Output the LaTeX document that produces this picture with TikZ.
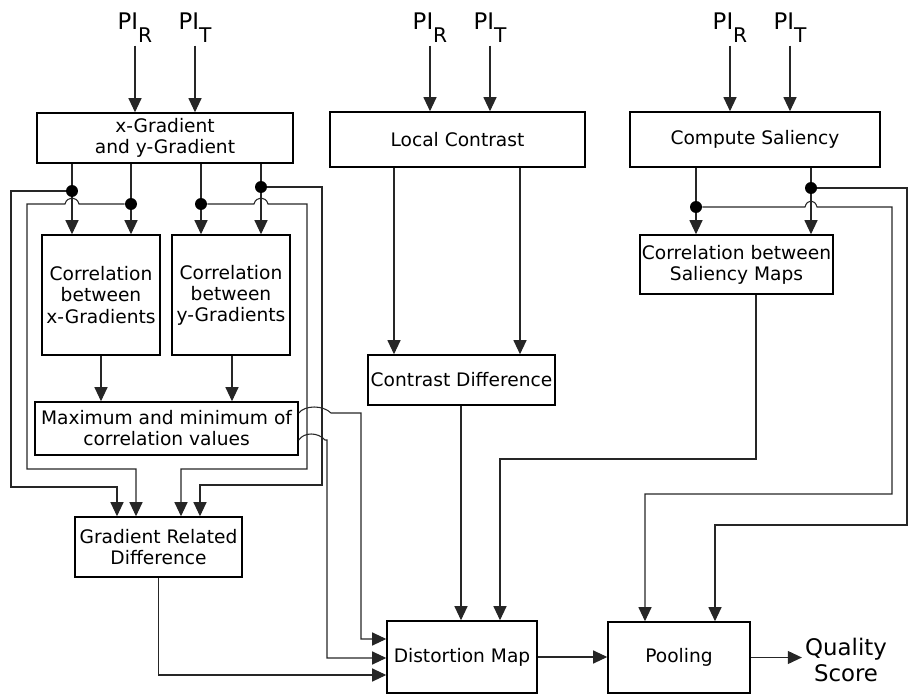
\documentclass[tikz,border=0pt]{standalone}
\usepackage{fontspec}
\setmainfont{DejaVu Sans}
\usepackage{tikz}
\usetikzlibrary{arrows.meta}
\tikzstyle{block}=[draw, line width=0.9pt, rectangle, align=center, inner sep=1pt, font=\fontsize{10.6}{12}\selectfont]
\tikzstyle{input}=[draw=none, inner sep=.6mm, font=\fontsize{13}{14.5}\selectfont]
\tikzstyle{dot}=[draw=none, fill, circle, inner sep=0pt, minimum size=2.4mm]
\tikzstyle{wire}=[line width=0.6pt, draw=black!85]
\tikzstyle{arr}=[wire, -{Triangle[length=2.8mm,width=2.6mm]}]

\begin{document}
\begin{tikzpicture}[x=0.02cm, y=-0.02cm]
\useasboundingbox (0,0) rectangle (910,696);
\node[block, minimum width=5.12cm, minimum height=1cm] (grad) at (165,138) {x-Gradient\\and y-Gradient};
\node[block, minimum width=5.1cm, minimum height=1.1cm] (lcon) at (457.5,139.5) {Local Contrast};
\node[block, minimum width=5cm, minimum height=1.1cm] (sal) at (755,139.5) {Compute Saliency};
\node[block, minimum width=2.36cm, minimum height=2.4cm] (corrx) at (101,295) {Correlation\\between\\x-Gradients};
\node[block, minimum width=2.36cm, minimum height=2.4cm] (corry) at (231,295) {Correlation\\between\\y-Gradients};
\node[block, minimum width=5.26cm, minimum height=1.06cm] (maxmin) at (166.5,428.5) {Maximum and minimum of\\correlation values};
\node[block, minimum width=3.34cm, minimum height=1.2cm] (grd) at (158.5,547) {Gradient Related\\Difference};
\node[block, minimum width=3.74cm, minimum height=1cm] (cdiff) at (461.5,380) {Contrast Difference};
\node[block, minimum width=3.66cm, minimum height=1.18cm] (corrs) at (736.5,264.5) {Correlation between\\Saliency Maps};
\node[block, minimum width=3cm, minimum height=1.44cm] (dmap) at (462,657) {Distortion Map};
\node[block, minimum width=2.84cm, minimum height=1.42cm] (pool) at (679,657.5) {Pooling};
\node[input, align=center, font=\fontsize{13}{14.5}\selectfont] (qs) at (846,660) {Quality\\Score};

% image inputs
\foreach \n/\x/\s/\b in {pr1/135/R/grad, pt1/195/T/grad, pr2/430/R/lcon, pt2/490/T/lcon, pr3/730/R/sal, pt3/790/T/sal}{
  \node[input, anchor=base] (\n) at (\x,30) {PI\raisebox{-7pt}{\fontsize{11.5}{12}\selectfont\s}};
  \draw[arr] (\n) -- (\n |- \b.north);
}

% branch points
\foreach \n/\x/\y in {d1/72/191, d2/131/204, d3/201/204, d4/261/187, s1/696/207, s2/811/188}
  \node[dot] (\n) at (\x,\y) {};
\foreach \d/\f/\t in {d1/grad/corrx, d2/grad/corrx, d3/grad/corry, d4/grad/corry, s1/sal/corrs, s2/sal/corrs}{
  \draw[wire] (\d |- \f.south) -- (\d);
  \draw[arr] (\d) -- (\d |- \t.north);
}
\foreach \x/\f/\t in {101/corrx/maxmin, 232/corry/maxmin, 394/lcon/cdiff, 520/lcon/cdiff, 461/cdiff/dmap}
  \draw[arr] (\x,0 |- \f.south) -- (\x,0 |- \t.north);

% gradients to gradient related difference
\draw[arr] (d1) -- (11,191) -- (11,487) -- (117,487) -- (117,0 |- grd.north);
\draw[arr] (d2) -- (79,204) .. controls (77,196) and (67,196) .. (65,204) -- (27,204) -- (27,469) -- (136,469) -- (136,0 |- grd.north);
\draw[arr] (d3) -- (254,204) .. controls (256,196) and (266,196) .. (268,204) -- (307,204) -- (307,469) -- (181,469) -- (181,0 |- grd.north);
\draw[arr] (d4) -- (322,187) -- (322,485) -- (200,485) -- (200,0 |- grd.north);

% into distortion map
\draw[arr] (maxmin.east |- 0,413) .. controls (305,405) and (323,405) .. (331,413) -- (361,413) -- (361,639) -- (dmap.west |- 0,639);
\draw[arr] (maxmin.east |- 0,440) .. controls (304,432) and (318,432) .. (325,440) -- (327,440) -- (327,658) -- (dmap.west |- 0,658);
\draw[arr] (grd.south) -- (grd.south |- 0,675) -- (dmap.west |- 0,675);
\draw[arr] (756,0 |- corrs.south) -- (756,459) -- (500,459) -- (500,0 |- dmap.north);

% saliency to pooling
\draw[arr] (s1) -- (805,207) .. controls (807,199) and (815,199) .. (817,207) -- (892,207) -- (892,494) -- (645,494) -- (645,0 |- pool.north);
\draw[arr] (s2) -- (907,188) -- (907,525) -- (715,525) -- (715,0 |- pool.north);

\draw[arr] (dmap.east) -- (dmap.east -| pool.west);
\draw[arr] (pool.east) -- (pool.east -| qs.west);
\end{tikzpicture}
\end{document}
